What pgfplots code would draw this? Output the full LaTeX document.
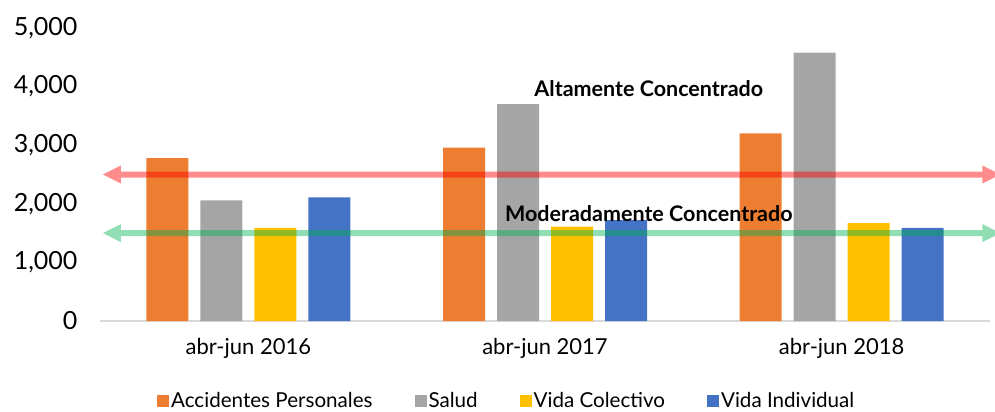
\documentclass[border=0pt]{standalone}
\usepackage{pgfplots}
\pgfplotsset{compat=1.18}
\usepackage{fontspec}
\setmainfont{Lato}
\definecolor{cOr}{HTML}{ED7D31}
\definecolor{cGr}{HTML}{A5A5A5}
\definecolor{cYe}{HTML}{FFC000}
\definecolor{cBl}{HTML}{4472C4}
\definecolor{cRed}{HTML}{FF0000}
\definecolor{cGreen}{HTML}{00B050}
\begin{document}
\begin{tikzpicture}
\begin{axis}[name=ax,
  width=890bp, height=293bp, scale only axis,
  xmin=-0.5, xmax=2.5, ymin=0, ymax=5000,
  ybar=12bp, bar width=42bp,
  xtick={0,1,2}, xticklabels={abr-jun 2016,abr-jun 2017,abr-jun 2018},
  ytick={0,1000,2000,3000,4000,5000},
  /pgf/number format/1000 sep={,},
  /pgf/number format/assume math mode=true,
  y tick label style={font=\fontsize{25bp}{28bp}\selectfont, xshift=-19bp},
  x tick label style={font=\fontsize{22bp}{26bp}\selectfont, yshift=-14bp},
  axis lines*=left,
  y axis line style={draw=none},
  x axis line style={draw=black!15, line width=1.5bp, -},
  major tick length=0pt,
  clip=false,
  legend columns=4,
  legend style={draw=none, at={(0.457,-0.273)}, anchor=center,
    font=\fontsize{20.6bp}{24bp}\selectfont,
    /tikz/every even column/.append style={column sep=40bp}},
  legend image code/.code={\fill[#1] (0bp,-6bp) rectangle (12bp,6bp);},
]
\addplot[fill=cOr, draw=none] coordinates {(0,2780) (1,2960) (2,3200)};
\addplot[fill=cGr, draw=none] coordinates {(0,2060) (1,3700) (2,4580)};
\addplot[fill=cYe, draw=none] coordinates {(0,1590) (1,1610) (2,1670)};
\addplot[fill=cBl, draw=none] coordinates {(0,2110) (1,1720) (2,1590)};
\legend{Accidentes Personales,Salud,Vida Colectivo,Vida Individual}
\addplot[sharp plot, draw=none, fill=cRed, fill opacity=0.45, forget plot, bar shift=0pt]
  coordinates {(-0.49,2500) (-0.4294,2653.6) (-0.4294,2551.2) (2.4744,2551.2) (2.4744,2653.6) (2.535,2500) (2.4744,2346.4) (2.4744,2448.8) (-0.4294,2448.8) (-0.4294,2346.4) (-0.49,2500)};
\addplot[sharp plot, draw=none, fill=cGreen, fill opacity=0.43, forget plot, bar shift=0pt]
  coordinates {(-0.49,1500) (-0.4294,1653.6) (-0.4294,1551.2) (2.4744,1551.2) (2.4744,1653.6) (2.535,1500) (2.4744,1346.4) (2.4744,1448.8) (-0.4294,1448.8) (-0.4294,1346.4) (-0.49,1500)};
\node[font=\fontsize{21.5bp}{25bp}\selectfont\bfseries] at (axis cs:1.35,3970) {Altamente Concentrado};
\node[font=\fontsize{21.5bp}{25bp}\selectfont\bfseries] at (axis cs:1.35,1840) {Moderadamente Concentrado};
\end{axis}
\pgfresetboundingbox
\path[use as bounding box] ([shift={(-100bp,-91bp)}]ax.south west) rectangle ([shift={(5bp,28bp)}]ax.north east);
\end{tikzpicture}
\end{document}
